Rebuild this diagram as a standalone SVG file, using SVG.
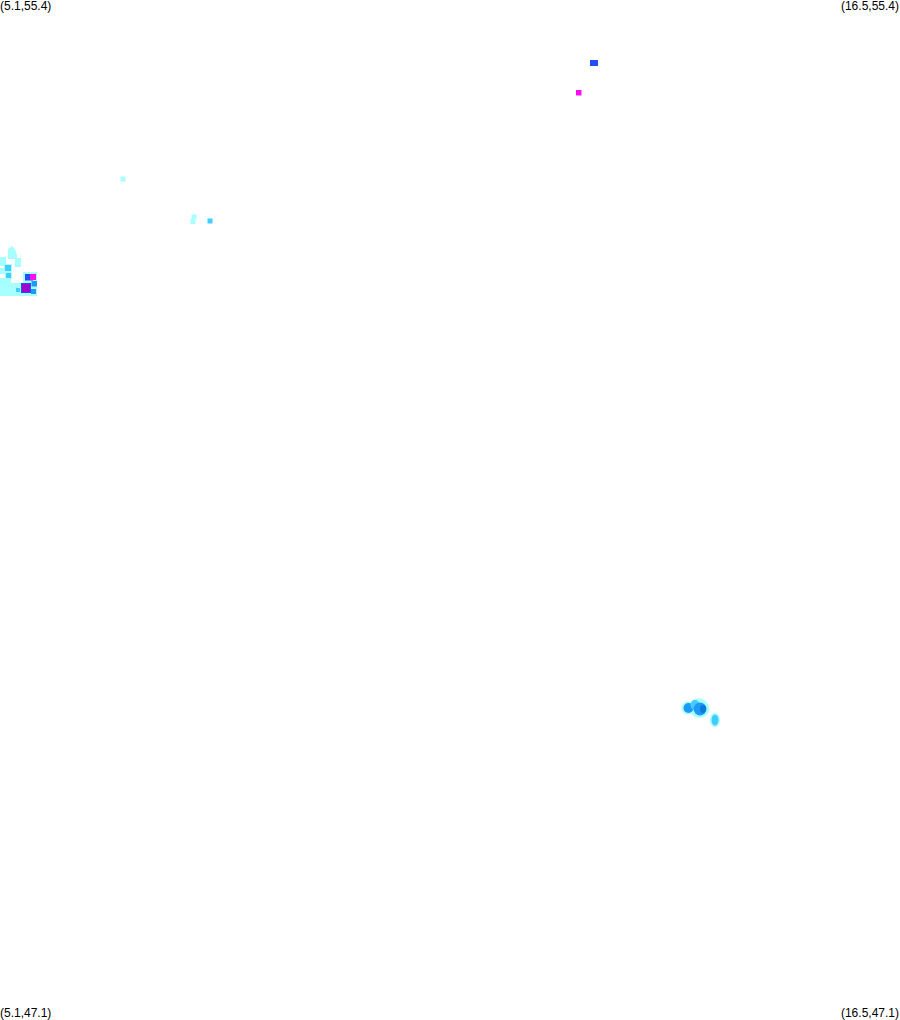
<svg xmlns="http://www.w3.org/2000/svg" width="900" height="1020" viewBox="0 0 900 1020">
<defs><filter id="s" x="-20%" y="-20%" width="140%" height="140%"><feGaussianBlur stdDeviation="0.7"/></filter></defs>
<style>
text{font-family:"Liberation Sans",Arial,sans-serif;font-size:12px;fill:#000}
.c{fill:#a8ffff}.m{fill:#45ccff}.b{fill:#1e9af5}.k{fill:#0a78e0}.d{fill:#2050f0}.p{fill:#a000d0}.g{fill:#ff10f0}
</style>
<rect width="900" height="1020" fill="#fff"/>
<text x="0" y="10">(5.1,55.4)</text>
<text x="899" y="10" text-anchor="end">(16.5,55.4)</text>
<text x="0" y="1017">(5.1,47.1)</text>
<text x="899" y="1017" text-anchor="end">(16.5,47.1)</text>
<g id="top" filter="url(#s)">
<rect class="d" x="590" y="60" width="8" height="6"/>
<rect class="g" x="576" y="90" width="5.5" height="5.5"/>
<rect class="c" x="120.500" y="176.500" width="5" height="5"/>
<rect class="c" x="191.500" y="214.500" width="5" height="4.500"/>
<rect class="c" x="190.500" y="219" width="5" height="5"/>
<rect class="m" x="207.500" y="218.500" width="5" height="5"/>
</g>
<g id="left" filter="url(#s)">
<path class="c" d="M8 249L12 246L15 249L17 255V258H21V267H15V259H8ZM0 257H6V266H0ZM4 264H12V279H5V274H0V268H4ZM0 278H11V283H23V272H37V296H0Z"/>
<rect class="m" x="5" y="265" width="6" height="6"/>
<rect class="m" x="6" y="273" width="5" height="5"/>
<rect class="m" x="16" y="288" width="4" height="4"/>
<rect class="d" x="25" y="274" width="8" height="6.500"/>
<rect class="g" x="30" y="274" width="6" height="6"/>
<rect class="b" x="31.500" y="281" width="5.500" height="5.500"/>
<rect class="d" x="21" y="283" width="10" height="10"/>
<rect class="p" x="22" y="284" width="8" height="8"/>
<rect class="b" x="31" y="289" width="5" height="5"/>
</g>
<g id="lower" filter="url(#s)">
<ellipse class="c" cx="688" cy="708" rx="6.500" ry="6.500"/>
<ellipse class="c" cx="699" cy="708" rx="10.500" ry="9.500" transform="rotate(30 699 708)"/>
<ellipse class="c" cx="715" cy="720" rx="5" ry="7"/>
<ellipse class="b" cx="688.500" cy="708" rx="5" ry="5"/>
<ellipse class="m" cx="695" cy="705" rx="4.500" ry="5"/>
<ellipse class="b" cx="700" cy="709" rx="6.500" ry="6.500"/>
<ellipse class="k" cx="703" cy="709" rx="3" ry="4"/>
<ellipse class="m" cx="715" cy="720" rx="3.500" ry="5.500"/>
</g>
</svg>
